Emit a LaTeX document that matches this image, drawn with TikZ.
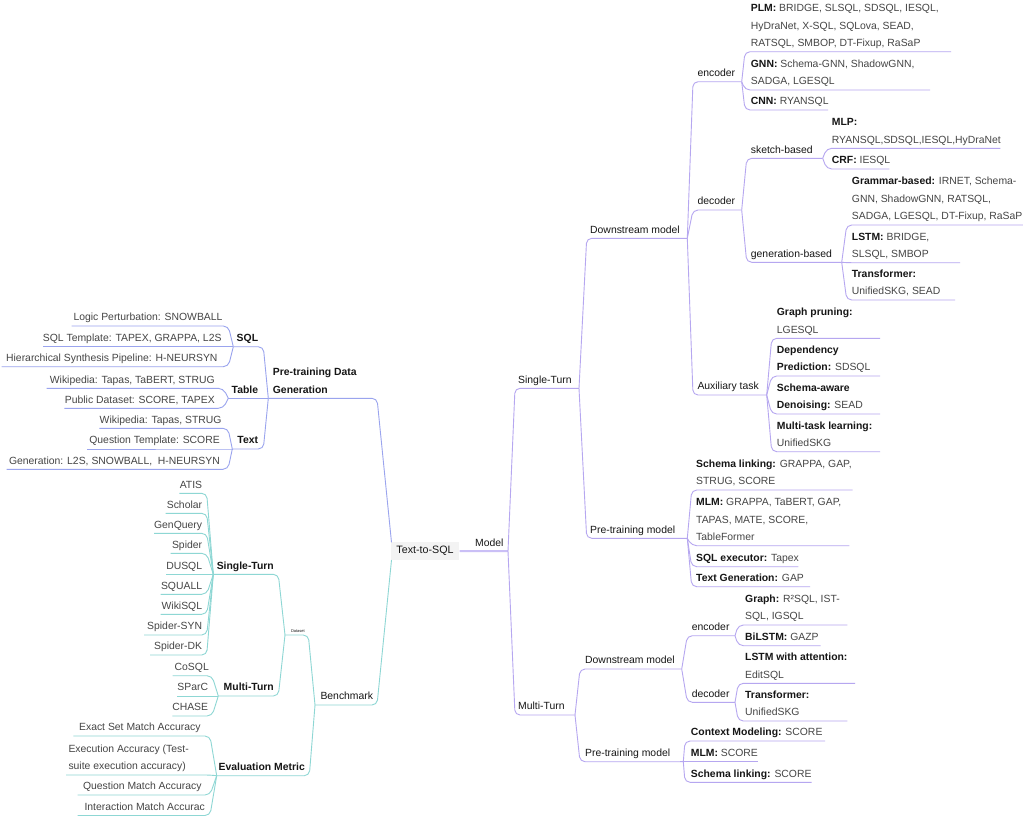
\documentclass[tikz,border=0pt]{standalone}
\usepackage{fontspec}
\setmainfont{Liberation Sans}
\usetikzlibrary{calc}
\definecolor{lgray}{HTML}{454545}
\definecolor{dk}{HTML}{161616}
\definecolor{cpur}{HTML}{B6A7F0}
\definecolor{cthick}{HTML}{CABFF6}
\definecolor{cblue}{HTML}{9AA4EE}
\definecolor{cteal}{HTML}{8ED7D4}
\definecolor{rootbg}{HTML}{F3F3F3}
\newcommand\mmfont{\fontsize{10.4}{17.5}\selectfont}
\newcommand\kw[1]{\textcolor{dk}{\bfseries #1}}
\newcommand\lb[1]{\textcolor{dk}{#1}}
% right-side / left-aligned node: name, x-left, x-right, y(underline), text-x, text
\newcommand\mmR[6]{%
  \coordinate (#1-s) at (#2,#4);
  \coordinate (#1-e) at (#3,#4);
  \node[rtx] (#1) at (#5,#4-5) {#6};}
% left-side right-aligned node
\newcommand\mmL[6]{%
  \coordinate (#1-s) at (#2,#4);
  \coordinate (#1-e) at (#3,#4);
  \node[ltx] (#1) at (#5,#4-5) {#6};}
\newcommand\cR[3]{\draw[#1] (#2-e) -- (#3-s) -- (#3-e);}
\newcommand\cL[3]{\draw[#1] (#2-s) -- (#3-e) -- (#3-s);}
\begin{document}
\begin{tikzpicture}[x=1pt,y=-1pt,
  rtx/.style={anchor=south west, inner sep=0pt, text depth=0pt, align=left, font=\mmfont, text=lgray},
  ltx/.style={anchor=south east, inner sep=0pt, text depth=0pt, align=right, font=\mmfont, text=lgray},
  pline/.style={draw=cpur, line width=0.9pt, rounded corners=5pt},
  bline/.style={draw=cblue, line width=0.9pt, rounded corners=5pt},
  tline/.style={draw=cteal, line width=0.9pt, rounded corners=5pt}]
\fill[white] (0,0) rectangle (1023,815);
\useasboundingbox (0,0) rectangle (1023,815);

% root
\node[fill=rootbg, minimum width=68.6pt, minimum height=17.7pt, inner sep=0pt,
      font=\fontsize{10.7}{12}\selectfont, text=dk] (root) at (425,551.15) {Text-to-SQL};
\coordinate (rootN) at (391.5,542.3);
\coordinate (rootS) at (391.5,560);

% ---------------- right side (Model) ----------------
\mmR{model}{460}{508}{551.2}{475}{\lb{Model}}
\mmR{st}{515}{579}{388.3}{518}{\lb{Single-Turn}}
\mmR{mt}{515}{575}{715}{518}{\lb{Multi-Turn}}
\mmR{sdm}{586.7}{687.3}{238.3}{590}{\lb{Downstream model}}
\mmR{spm}{586.7}{687.3}{538.3}{590}{\lb{Pre-training model}}
\mmR{enc}{693}{741.7}{81.7}{697.3}{\lb{encoder}}
\mmR{dec}{693}{741.7}{210}{697.3}{\lb{decoder}}
\mmR{aux}{693}{766.7}{395}{697.3}{\lb{Auxiliary task}}
\mmR{plm}{745}{951}{51.7}{750.7}{\kw{PLM:} BRIDGE, SLSQL, SDSQL, IESQL,\\HyDraNet, X-SQL, SQLova, SEAD,\\RATSQL, SMBOP, DT-Fixup, RaSaP}
\mmR{gnn}{745}{930}{90}{750.7}{\kw{GNN:} Schema-GNN, ShadowGNN,\\SADGA, LGESQL}
\mmR{cnn}{745}{828}{110}{750.7}{\kw{CNN:} RYANSQL}
\mmR{skb}{746.7}{822.7}{158.3}{750.7}{\lb{sketch-based}}
\mmR{genb}{746.7}{841.7}{262.3}{750.7}{\lb{generation-based}}
\mmR{mlp}{826.7}{1000.3}{148.3}{831.7}{\kw{MLP:}\\RYANSQL,SDSQL,IESQL,HyDraNet}
\mmR{crf}{826.7}{889.3}{169}{831.7}{\kw{CRF:} IESQL}
\mmR{gram}{846.7}{1023}{225}{851.7}{\kw{Grammar-based:} IRNET, Schema-\\GNN, ShadowGNN, RATSQL,\\SADGA, LGESQL, DT-Fixup, RaSaP}
\mmR{lstm}{846.7}{960}{262.7}{851.7}{\kw{LSTM:} BRIDGE,\\SLSQL, SMBOP}
\mmR{trf}{846.7}{955}{300}{851.7}{\kw{Transformer:}\\UnifiedSKG, SEAD}
\mmR{gp}{771.7}{880}{338.3}{776.7}{\kw{Graph pruning:}\\LGESQL}
\mmR{dp}{771.7}{880}{376}{776.7}{\kw{Dependency}\\\kw{Prediction:} SDSQL}
\mmR{sad}{771.7}{880}{414}{776.7}{\kw{Schema-aware}\\\kw{Denoising:} SEAD}
\mmR{mtl}{771.7}{880}{451.7}{776.7}{\kw{Multi-task learning:}\\UnifiedSKG}
\mmR{sl}{691.7}{852.7}{490}{696}{\kw{Schema linking:} GRAPPA, GAP,\\STRUG, SCORE}
\mmR{mlm}{691.7}{849.3}{545.7}{696}{\kw{MLM:} GRAPPA, TaBERT, GAP,\\TAPAS, MATE, SCORE,\\TableFormer}
\mmR{sqle}{691.7}{798.3}{566.7}{696}{\kw{SQL executor:} Tapex}
\mmR{tg}{691.7}{810}{586.7}{696}{\kw{Text Generation:} GAP}
\mmR{mdm}{580}{681.7}{669}{585}{\lb{Downstream model}}
\mmR{mpm}{580}{683.3}{761.7}{585}{\lb{Pre-training model}}
\mmR{menc}{687.3}{735}{635.7}{691.7}{\lb{encoder}}
\mmR{mdec}{687.3}{735}{702.3}{691.7}{\lb{decoder}}
\mmR{graph}{738.3}{847.3}{625}{745}{\kw{Graph:} R²SQL, IST-\\SQL, IGSQL}
\mmR{bil}{738.3}{820.7}{645.7}{745}{\kw{BiLSTM:} GAZP}
\mmR{lwa}{738.3}{855}{683.3}{745}{\kw{LSTM with attention:}\\EditSQL}
\mmR{mtrf}{738.3}{847.3}{721}{745}{\kw{Transformer:}\\UnifiedSKG}
\mmR{cm}{685}{825}{741}{690.7}{\kw{Context Modeling:} SCORE}
\mmR{mmlm}{685}{757.7}{761.7}{690.7}{\kw{MLM:} SCORE}
\mmR{msl}{685}{811.7}{782.3}{690.7}{\kw{Schema linking:} SCORE}

\draw[draw=cthick, line width=2pt] (root.east) -- (model-e);
\cR{pline}{model}{st} \cR{pline}{model}{mt}
\cR{pline}{st}{sdm} \cR{pline}{st}{spm}
\cR{pline}{sdm}{enc} \cR{pline}{sdm}{dec} \cR{pline}{sdm}{aux}
\cR{pline}{enc}{plm} \cR{pline}{enc}{gnn} \cR{pline}{enc}{cnn}
\cR{pline}{dec}{skb} \cR{pline}{dec}{genb}
\cR{pline}{skb}{mlp} \cR{pline}{skb}{crf}
\cR{pline}{genb}{gram} \cR{pline}{genb}{lstm} \cR{pline}{genb}{trf}
\cR{pline}{aux}{gp} \cR{pline}{aux}{dp} \cR{pline}{aux}{sad} \cR{pline}{aux}{mtl}
\cR{pline}{spm}{sl} \cR{pline}{spm}{mlm} \cR{pline}{spm}{sqle} \cR{pline}{spm}{tg}
\cR{pline}{mt}{mdm} \cR{pline}{mt}{mpm}
\cR{pline}{mdm}{menc} \cR{pline}{mdm}{mdec}
\cR{pline}{menc}{graph} \cR{pline}{menc}{bil}
\cR{pline}{mdec}{lwa} \cR{pline}{mdec}{mtrf}
\cR{pline}{mpm}{cm} \cR{pline}{mpm}{mmlm} \cR{pline}{mpm}{msl}

% ---------------- left side: Pre-training Data Generation ----------------
\mmR{pdg}{268.3}{377}{398.3}{272.7}{\kw{Pre-training Data}\\\kw{Generation}}
\mmL{sql}{233.3}{263.3}{346.7}{258.3}{\kw{SQL}}
\mmL{tab}{228.3}{263.3}{398.3}{258.3}{\kw{Table}}
\mmL{txt}{232.3}{263.3}{449}{258.3}{\kw{Text}}
\mmL{lp}{71.7}{228.3}{326}{222.7}{Logic Perturbation: SNOWBALL}
\mmL{sqlt}{42.7}{228.3}{346.7}{221.7}{SQL Template: TAPEX, GRAPPA, L2S}
\mmL{hsp}{1.7}{228.3}{366.7}{217.7}{Hierarchical Synthesis Pipeline: H-NEURSYN}
\mmL{wka}{46.7}{223.3}{388.3}{215}{Wikipedia: Tapas, TaBERT, STRUG}
\mmL{pd}{64.3}{223.3}{408.3}{215}{Public Dataset: SCORE, TAPEX}
\mmL{wkb}{99.3}{228}{428.3}{221.7}{Wikipedia: Tapas, STRUG}
\mmL{qt}{87.3}{228}{449}{220}{Question Template: SCORE}
\mmL{gen}{6.7}{228}{469.3}{220}{Generation: L2S, SNOWBALL,~~H-NEURSYN}

\draw[bline] (rootN) -- (pdg-e) -- (pdg-s);
\cL{bline}{pdg}{sql} \cL{bline}{pdg}{tab} \cL{bline}{pdg}{txt}
\cL{bline}{sql}{lp} \cL{bline}{sql}{sqlt} \cL{bline}{sql}{hsp}
\cL{bline}{tab}{wka} \cL{bline}{tab}{pd}
\cL{bline}{txt}{wkb} \cL{bline}{txt}{qt} \cL{bline}{txt}{gen}

% ---------------- left side: Benchmark ----------------
\mmL{bench}{315}{377}{705}{373.3}{\lb{Benchmark}}
\coordinate (ds-s) at (285,635);
\coordinate (ds-e) at (308.3,635);
\node[ltx, font=\fontsize{4}{5}\selectfont, text=dk] (ds) at (305,633) {Dataset};
\mmL{em}{216.7}{309.3}{775.7}{305}{\kw{Evaluation Metric}}
\mmL{dst}{213.3}{278.3}{574.3}{274}{\kw{Single-Turn}}
\mmL{dmt}{218.3}{278.3}{696}{274}{\kw{Multi-Turn}}
\mmL{atis}{179.3}{206.7}{493.3}{202.3}{ATIS}
\mmL{scholar}{165.7}{206.7}{513.3}{202.3}{Scholar}
\mmL{genq}{154}{206.7}{533.3}{202.3}{GenQuery}
\mmL{spider}{170.7}{206.7}{553.3}{202.3}{Spider}
\mmL{dusql}{165.7}{206.7}{574.3}{202.3}{DUSQL}
\mmL{squall}{160.7}{206.7}{594.3}{202.3}{SQUALL}
\mmL{wikisql}{160.7}{206.7}{614.3}{202.3}{WikiSQL}
\mmL{ssyn}{144}{206.7}{635}{202.3}{Spider-SYN}
\mmL{sdk}{150}{206.7}{655}{202.3}{Spider-DK}
\mmL{cosql}{172.7}{212}{675.7}{209}{CoSQL}
\mmL{sparc}{176.7}{212}{696}{208.3}{SParC}
\mmL{chase}{172.3}{212}{716}{208.3}{CHASE}
\mmL{esm}{73.3}{210}{736}{200.7}{Exact Set Match Accuracy}
\mmR{exa}{66}{210}{775}{68.3}{Execution Accuracy (Test-\\suite execution accuracy)}
\mmL{qma}{77.7}{210}{795}{201.7}{Question Match Accuracy}
\mmL{ima}{77.7}{210}{815.5}{205}{Interaction Match Accurac}

\draw[tline] (rootS) -- (bench-e) -- (bench-s);
\cL{tline}{bench}{ds} \cL{tline}{bench}{em}
\cL{tline}{ds}{dst} \cL{tline}{ds}{dmt}
\cL{tline}{dst}{atis} \cL{tline}{dst}{scholar} \cL{tline}{dst}{genq}
\cL{tline}{dst}{spider} \cL{tline}{dst}{dusql} \cL{tline}{dst}{squall}
\cL{tline}{dst}{wikisql} \cL{tline}{dst}{ssyn} \cL{tline}{dst}{sdk}
\cL{tline}{dmt}{cosql} \cL{tline}{dmt}{sparc} \cL{tline}{dmt}{chase}
\cL{tline}{em}{esm} \cL{tline}{em}{exa} \cL{tline}{em}{qma} \cL{tline}{em}{ima}
\end{tikzpicture}
\end{document}
